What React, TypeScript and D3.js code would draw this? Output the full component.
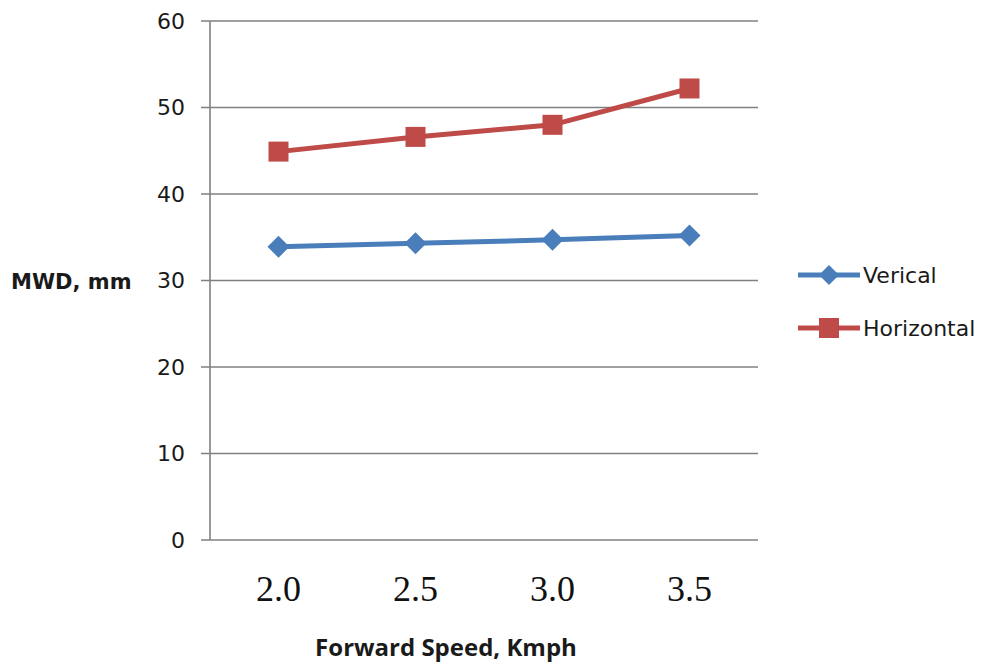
import React from "react";
import * as d3 from "d3";

const categories = ["2.0", "2.5", "3.0", "3.5"];
const verticalValues = [33.9, 34.3, 34.7, 35.2];
const horizontalValues = [44.9, 46.6, 48.0, 52.2];
const yTicks = [0, 10, 20, 30, 40, 50, 60];
const seriesNames = ["Verical", "Horizontal"];

const W = 986;
const H = 666;
const left = 210;
const right = 758;
const top = 21;
const bottom = 540;
const blue = "#4A7EBB";
const red = "#BE4B48";
const grid = "#808080";

export default function App() {
  const x = d3.scalePoint<string>().domain(categories).range([left, right]).padding(0.5);
  const y = d3.scaleLinear().domain([0, 60]).range([bottom, top]);
  const line = d3
    .line<number>()
    .x((_, i) => x(categories[i]) as number)
    .y((d) => y(d));
  const diamond = (cx: number, cy: number, r: number) =>
    `M${cx},${cy - r}L${cx + r},${cy}L${cx},${cy + r}L${cx - r},${cy}Z`;

  return (
    <svg width={W} height={H} style={{ position: "absolute", left: 0, top: 0, background: "#fff" }}>
      <rect x={0} y={0} width={W} height={H} fill="#fff" />
      {yTicks.map((t) => (
        <g key={t}>
          <line x1={201} x2={right} y1={y(t)} y2={y(t)} stroke={grid} strokeWidth={1.6} />
          <text
            x={185}
            y={y(t)}
            dy="0.36em"
            textAnchor="end"
            fontFamily="DejaVu Sans, sans-serif"
            fontSize={22}
            fill="#1a1a1a"
          >
            {t}
          </text>
        </g>
      ))}
      <line x1={left} x2={left} y1={top} y2={bottom} stroke={grid} strokeWidth={1.6} />
      {categories.map((c) => (
        <text
          key={c}
          x={x(c) as number}
          y={601}
          textAnchor="middle"
          fontFamily="Liberation Serif, Times New Roman, serif"
          fontSize={36}
          fill="#111"
        >
          {c}
        </text>
      ))}
      <path d={line(verticalValues) || ""} fill="none" stroke={blue} strokeWidth={5} />
      <path d={line(horizontalValues) || ""} fill="none" stroke={red} strokeWidth={5} />
      {verticalValues.map((v, i) => (
        <path key={"v" + i} d={diamond(x(categories[i]) as number, y(v), 11)} fill={blue} />
      ))}
      {horizontalValues.map((v, i) => (
        <rect key={"h" + i} x={(x(categories[i]) as number) - 10} y={y(v) - 10} width={20} height={20} fill={red} />
      ))}
      {/* legend */}
      <line x1={798} x2={860} y1={275} y2={275} stroke={blue} strokeWidth={5} />
      <path d={diamond(829, 275, 10)} fill={blue} />
      <text x={863} y={275} dy="0.36em" fontFamily="DejaVu Sans, sans-serif" fontSize={22} fill="#1a1a1a">
        {seriesNames[0]}
      </text>
      <line x1={798} x2={860} y1={328} y2={328} stroke={red} strokeWidth={5} />
      <rect x={819} y={318} width={20} height={20} fill={red} />
      <text x={863} y={328} dy="0.36em" fontFamily="DejaVu Sans, sans-serif" fontSize={22} fill="#1a1a1a">
        {seriesNames[1]}
      </text>
      <text
        x={11}
        y={281}
        dy="0.36em"
        fontFamily="DejaVu Sans, sans-serif"
        fontWeight="bold"
        fontSize={21}
        fill="#1a1a1a"
      >
        MWD, mm
      </text>
      <text
        x={446}
        y={656}
        textAnchor="middle"
        fontFamily="Open Sans, sans-serif"
        fontWeight="bold"
        fontSize={24}
        fill="#1a1a1a"
      >
        Forward Speed, Kmph
      </text>
    </svg>
  );
}
